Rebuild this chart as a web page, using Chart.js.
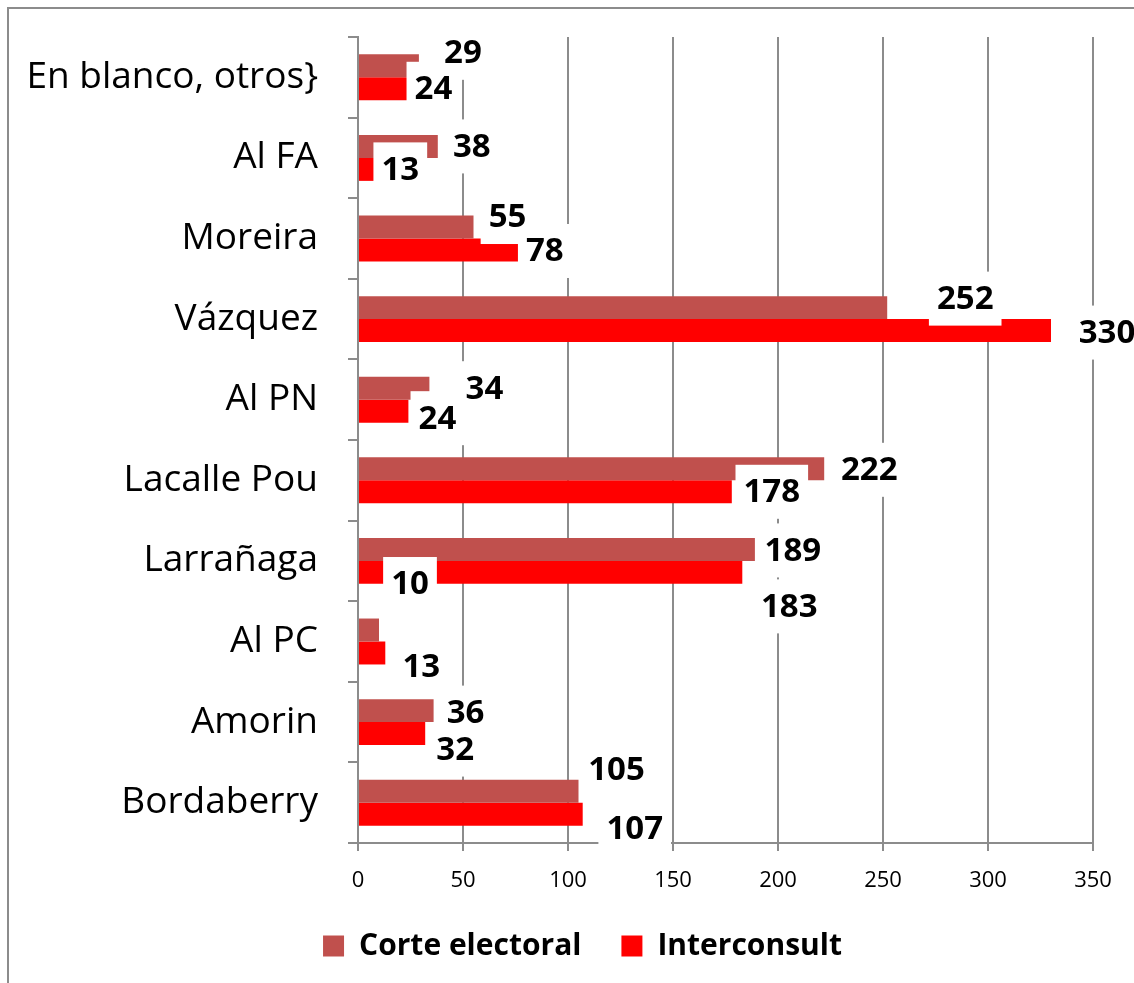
<!DOCTYPE html>
<html>
<head>
<meta charset="utf-8">
<script src="https://cdn.jsdelivr.net/npm/chart.js@4/dist/chart.umd.min.js"></script>
<style>
  html, body { margin: 0; padding: 0; background: #fff; overflow: hidden; width: 1134px; height: 983px; }
  #frame { position: absolute; left: 7px; top: 7px; width: 1300px; height: 1100px; border: 2px solid #8c8c8c; }
  #wrap { position: absolute; left: 0; top: 0; width: 1165px; height: 983px; }
</style>
</head>
<body>
<div id="frame"></div>
<div id="wrap"><canvas id="chart"></canvas></div>
<script>
const categories = [
  "En blanco, otros}", "Al FA", "Moreira", "Vázquez", "Al PN",
  "Lacalle Pou", "Larrañaga", "Al PC", "Amorin", "Bordaberry"
];
const corteElectoral = [29, 38, 55, 252, 34, 222, 189, 10, 36, 105];
const interconsult = [24, 13, 78, 330, 24, 178, 183, 13, 32, 107];
const xTicks = [0, 50, 100, 150, 200, 250, 300, 350];

// where each value label sits, relative to the end of its bar (like the hand-placed labels)
const labelNudge = [
  [[44, -13], [34, 0], [34, -10], [78, -9], [55, 0], [45, 1], [38, 1], [31, -46], [32, 2], [38, -22]],
  [[25, 0], [15, 0], [23, 1], [56, 2], [29, 7], [40, 0], [47, 34], [36, 14], [30, 16], [52, 14]]
];

const FONT = "'Open Sans', 'DejaVu Sans', sans-serif";

const valueLabels = {
  id: "valueLabels",
  afterDatasetsDraw(chart) {
    const ctx = chart.ctx;
    const items = [];
    chart.data.datasets.forEach((ds, d) => {
      chart.getDatasetMeta(d).data.forEach((bar, i) => {
        const n = labelNudge[d][i];
        items.push({ text: String(ds.data[i]), x: bar.x + n[0], y: bar.y + n[1] });
      });
    });
    ctx.save();
    ctx.font = "bold 33px " + FONT;
    ctx.textAlign = "center";
    ctx.textBaseline = "middle";
    ctx.fillStyle = "#ffffff";
    items.forEach((it) => {
      const w = ctx.measureText(it.text).width + 16;
      ctx.fillRect(it.x - w / 2, it.y - 27, w, 54);
    });
    ctx.fillStyle = "#000000";
    items.forEach((it) => ctx.fillText(it.text, it.x, it.y + 1));
    ctx.restore();
  }
};

new Chart(document.getElementById("chart"), {
  type: "bar",
  data: {
    labels: categories,
    datasets: [
      { label: "Corte electoral", data: corteElectoral, backgroundColor: "#C0504D" },
      { label: "Interconsult", data: interconsult, backgroundColor: "#FF0000" }
    ]
  },
  options: {
    indexAxis: "y",
    responsive: true,
    maintainAspectRatio: false,
    animation: false,
    categoryPercentage: 0.57,
    barPercentage: 1.0,
    layout: { padding: { left: 0, right: 0, top: 37, bottom: 12 } },
    scales: {
      x: {
        min: 0,
        max: 350,
        afterBuildTicks: (scale) => { scale.ticks = xTicks.map((v) => ({ value: v })); },
        afterFit: (scale) => { scale.height = 48; },
        grid: { color: "#8c8c8c", lineWidth: 2, tickLength: 8 },
        border: { color: "#8c8c8c", width: 2 },
        ticks: { color: "#000", font: { family: FONT, size: 22 }, padding: 17, maxRotation: 0 }
      },
      y: {
        afterFit: (scale) => {
          scale.width = 358;
          scale.paddingTop = 0;
          scale.paddingBottom = 0;
        },
        grid: { offset: true, drawOnChartArea: false, color: "#8c8c8c", lineWidth: 2, tickLength: 10 },
        border: { color: "#8c8c8c", width: 2 },
        ticks: { color: "#000", font: { family: FONT, size: 37 }, padding: 30 }
      },
      // empty spacer on the right so the legend is centred like the original
      yRight: {
        type: "category",
        position: "right",
        afterFit: (scale) => {
          scale.width = 72;
          scale.paddingTop = 0;
          scale.paddingBottom = 0;
        },
        grid: { display: false },
        border: { display: false },
        ticks: { display: false }
      }
    },
    plugins: {
      legend: {
        position: "bottom",
        labels: {
          color: "#000",
          font: { family: FONT, size: 30, weight: "bold" },
          boxWidth: 21,
          boxHeight: 21,
          padding: 40
        }
      },
      tooltip: { enabled: false }
    }
  },
  plugins: [valueLabels]
});
</script>
</body>
</html>
